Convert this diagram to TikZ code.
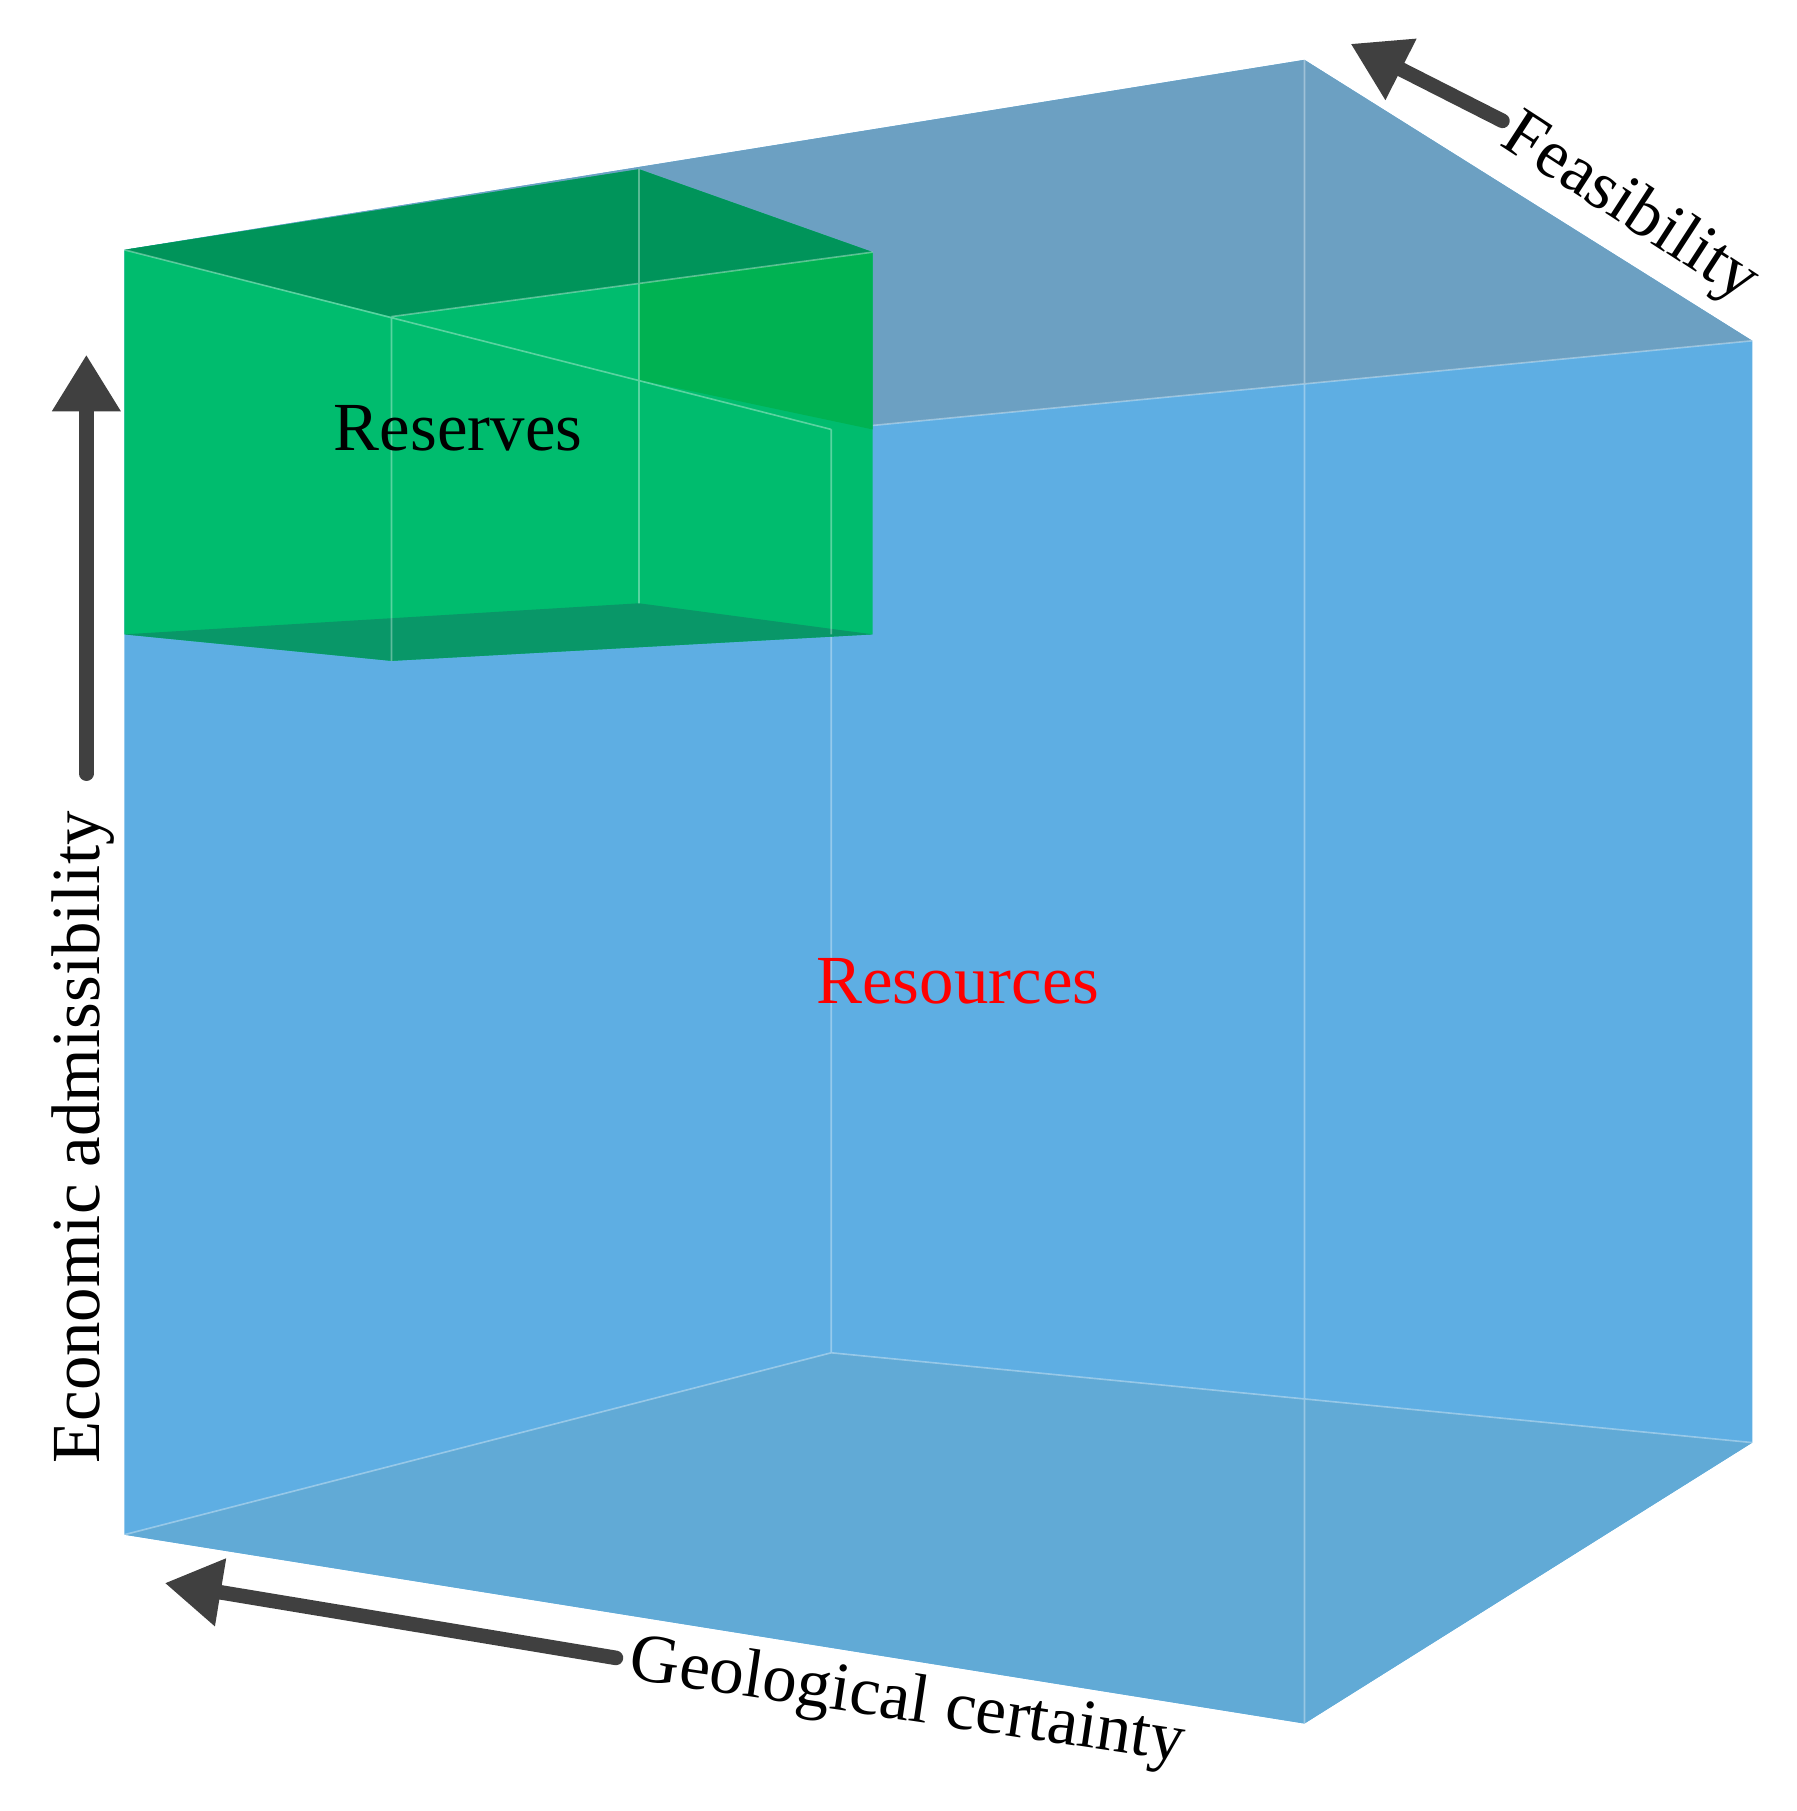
\documentclass[tikz,border=0pt]{standalone}
\usepackage{fontspec}
\setmainfont{Liberation Serif}
\usetikzlibrary{arrows.meta}
\definecolor{blu}{RGB}{94,174,227}
\definecolor{topc}{RGB}{108,160,194}
\definecolor{botc}{RGB}{97,170,214}
\definecolor{grn}{RGB}{0,188,110}
\definecolor{grnd}{RGB}{0,148,90}
\definecolor{grnm}{RGB}{0,178,82}
\definecolor{ar}{RGB}{64,64,64}
\tikzset{edge/.style={draw=white,draw opacity=0.35,line width=0.4pt},
 axis/.style={draw=ar,line width=3.6pt,line cap=round,-{Triangle[length=14pt,width=16pt]}},
 lab/.style={font=\fontsize{17}{20}\selectfont}}
\begin{document}
\begin{tikzpicture}[x=0.01cm,y=-0.01cm]
\useasboundingbox (0,0) rectangle (1560,1573);
% cube
\fill[blu] (108,217)--(1133,52)--(1522,296)--(1522,1253)--(1133,1497)--(108,1333)--cycle;
\fill[topc] (108,217)--(1133,52)--(1522,296)--(722,373)--cycle;
\fill[botc] (108,1333)--(722,1175)--(1522,1253)--(1133,1497)--cycle;
\draw[edge] (722,373)--(722,1175) (1133,52)--(1133,1497) (722,1175)--(1522,1253) (722,1175)--(108,1333) (722,373)--(1522,296);
% green box
\fill[grn] (108,217)--(555,147)--(758,219)--(758,551)--(340,574)--(108,551)--cycle;
\fill[grnm] (555,245)--(758,219)--(758,373)--(555,330)--cycle;
\fill[grnd] (108,217)--(555,147)--(758,219)--(340,275)--cycle;
\fill[grnd!90!blu] (108,551)--(555,524)--(758,551)--(340,574)--cycle;
\draw[edge] (340,275)--(340,574) (555,147)--(555,524) (722,373)--(722,551) (108,217)--(722,373) (340,275)--(758,219);
% labels
\node[lab] (res) at (398,372) {Reserves};
\node[lab,text=red] (rsc) at (832,852) {Resources};
% axes
\coordinate (e0) at (75,672); \coordinate (e1) at (75,308);
\draw[axis] (e0)--(e1);
\node[lab,rotate=90] (eco) at (72,988) {Economic admissibility};
\coordinate (f0) at (1305,105); \coordinate (f1) at (1173,38);
\draw[axis] (f0)--(f1);
\node[lab,rotate=-33] (fea) at (1415,182) {Feasibility};
\coordinate (g0) at (535,1440); \coordinate (g1) at (143,1375);
\draw[axis] (g0)--(g1);
\node[lab,rotate=-8.5] (geo) at (788,1480) {Geological certainty};
\end{tikzpicture}
\end{document}
